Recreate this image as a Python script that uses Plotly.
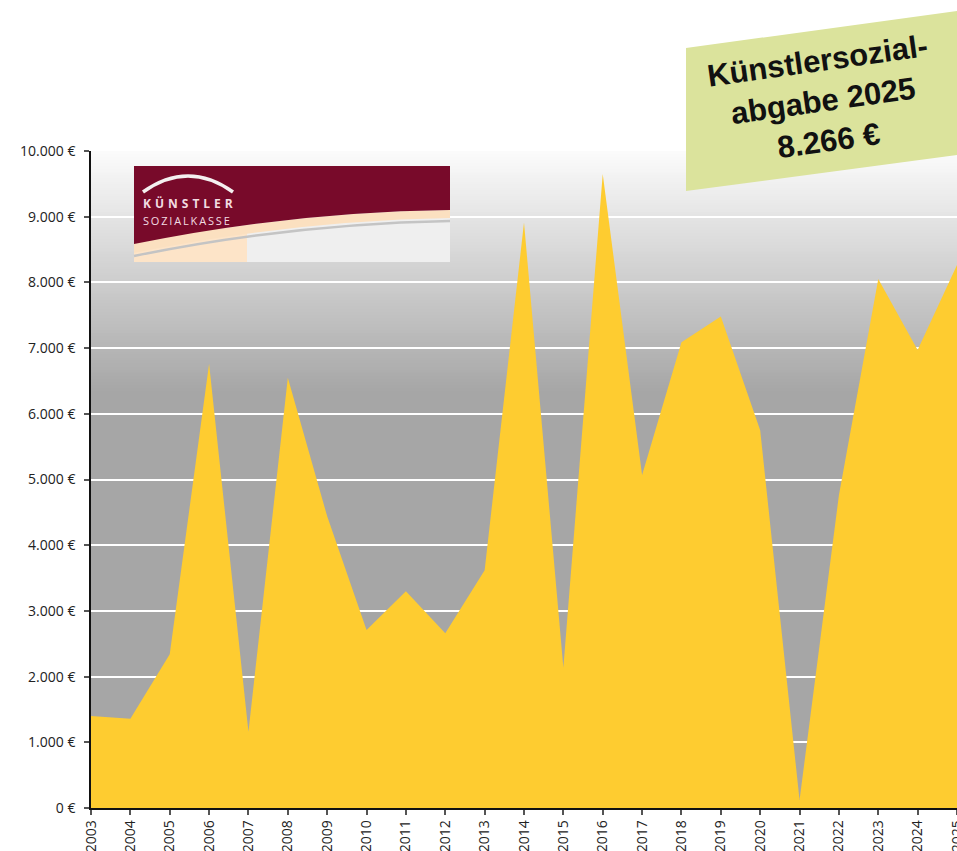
import plotly.graph_objects as go

# ---- data ----
years = list(range(2003, 2026))
values = [1400, 1360, 2340, 6760, 1160, 6550, 4440, 2710, 3300, 2660, 3620, 8910,
          2140, 9650, 5070, 7090, 7480, 5750, 120, 4760, 8050, 6970, 8266]
year_labels = [str(y) for y in years]
y_ticks = list(range(0, 10001, 1000))
y_labels = ["0 €", "1.000 €", "2.000 €", "3.000 €", "4.000 €", "5.000 €",
            "6.000 €", "7.000 €", "8.000 €", "9.000 €", "10.000 €"]
badge_text = "Künstlersozial-<br>abgabe 2025<br>8.266 €"

# ---- layout geometry (pixels) ----
FIG_W, FIG_H = 957, 851
L, T, B = 91, 151, 43
PW, PH = FIG_W - L, FIG_H - T - B


def pp(x, y):
    """pixel -> paper coords"""
    return (x - L) / PW, (FIG_H - B - y) / PH


def path(cmds):
    out = []
    for c in cmds:
        if isinstance(c, str):
            out.append(c)
        else:
            px_, py_ = pp(*c)
            out.append(f"{px_:.5f},{py_:.5f}")
    return " ".join(out)


fig = go.Figure()
fig.add_trace(go.Scatter(
    x=years, y=values, mode="lines", fill="tozeroy",
    line=dict(width=0, color="#FECC30"), fillcolor="#FECC30",
    hoverinfo="skip", showlegend=False,
))

shapes = []
# background gradient (white at top -> grey), overlapping strips to avoid banding
n = 80
g_top, g_bot = 10000, 6300
for i in range(n):
    y0 = g_bot + (g_top - g_bot) * i / n
    t = i / (n - 1)
    c = int(round(166 + (251 - 166) * t))
    shapes.append(dict(type="rect", xref="paper", yref="y", x0=0, x1=1, y0=y0, y1=g_top,
                       fillcolor=f"rgb({c},{c},{c})", line=dict(width=0), layer="below"))

# logo
x0, y0 = pp(134, 262)
x1, y1 = pp(450, 166)
shapes.append(dict(type="rect", xref="paper", yref="paper", x0=x0, y0=y0, x1=x1, y1=y1,
                   fillcolor="#efefef", line=dict(width=0), layer="above"))
a0, b0 = pp(134, 262)
a1, b1 = pp(247, 228)
shapes.append(dict(type="rect", xref="paper", yref="paper", x0=a0, y0=b0, x1=a1, y1=b1,
                   fillcolor="#fde4c8", line=dict(width=0), layer="above"))
shapes.append(dict(type="path", xref="paper", yref="paper", layer="above",
                   path=path(["M", (450, 210), "Q", (290, 212), (134, 244), "L", (134, 253),
                              "Q", (290, 221), (450, 218), "Z"]),
                   fillcolor="#fbe0c0", line=dict(width=0)))
shapes.append(dict(type="path", xref="paper", yref="paper", layer="above",
                   path=path(["M", (134, 256), "Q", (290, 224), (450, 221)]),
                   line=dict(width=2.5, color="#c4c4c4")))
shapes.append(dict(type="path", xref="paper", yref="paper", layer="above",
                   path=path(["M", (134, 166), "L", (450, 166), "L", (450, 210),
                              "Q", (290, 212), (134, 244), "Z"]),
                   fillcolor="#780a2a", line=dict(width=0)))
shapes.append(dict(type="path", xref="paper", yref="paper", layer="above",
                   path=path(["M", (143, 192), "Q", (188, 160), (233, 192)]),
                   line=dict(width=3.5, color="#f4f0f0")))

# green badge
shapes.append(dict(type="path", xref="paper", yref="paper", layer="above",
                   path=path(["M", (686, 48), "L", (957, 11), "L", (957, 155), "L", (686, 191), "Z"]),
                   fillcolor="#dbe39c", line=dict(width=0)))

annotations = []
kx, ky = pp(141, 203)
annotations.append(dict(xref="paper", yref="paper", x=kx, y=ky,
                        text="K\u2004Ü\u2004N\u2004S\u2004T\u2004L\u2004E\u2004R",
                        showarrow=False, xanchor="left", yanchor="middle",
                        font=dict(family="Open Sans", size=12, color="#f2dce2", weight="bold")))
sx, sy = pp(141, 220)
annotations.append(dict(xref="paper", yref="paper", x=sx, y=sy,
                        text="S\u2009O\u2009Z\u2009I\u2009A\u2009L\u2009K\u2009A\u2009S\u2009S\u2009E",
                        showarrow=False, xanchor="left", yanchor="middle",
                        font=dict(family="Open Sans", size=11, color="#f2dce2")))
bx, by = pp(823, 101)
annotations.append(dict(xref="paper", yref="paper", x=bx, y=by, text=badge_text,
                        showarrow=False, xanchor="center", yanchor="middle", textangle=-8,
                        align="center",
                        font=dict(family="Liberation Sans", size=31, color="#111111", weight="bold")))

fig.update_layout(
    width=FIG_W, height=FIG_H,
    margin=dict(l=L, r=0, t=T, b=B, pad=0, autoexpand=False),
    paper_bgcolor="white", plot_bgcolor="#a6a6a6",
    shapes=shapes, annotations=annotations,
    showlegend=False,
    font=dict(family="Open Sans", size=13, color="#222222"),
)
fig.update_xaxes(
    range=[2003, 2025], tickmode="array", tickvals=years, ticktext=year_labels,
    tickangle=-90, ticks="outside", ticklen=5, tickcolor="#555555", tickwidth=1.5,
    showline=True, linecolor="#111111", linewidth=1.5, showgrid=False, zeroline=False,
    tickfont=dict(size=14, color="#222222"), automargin=False, ticklabeloverflow="allow",
)
fig.update_yaxes(
    range=[0, 10000], tickmode="array", tickvals=y_ticks, ticktext=y_labels,
    ticks="outside", ticklen=5, tickcolor="#555555", tickwidth=1.5,
    showline=True, linecolor="#111111", linewidth=1.5,
    showgrid=True, gridcolor="white", gridwidth=2, zeroline=False,
    tickfont=dict(size=14, color="#222222"), automargin=False, ticklabelstandoff=6,
)

fig.write_html("out.html", config={"displayModeBar": False},
               post_script="document.body.style.margin='0';document.body.style.overflow='hidden';")
